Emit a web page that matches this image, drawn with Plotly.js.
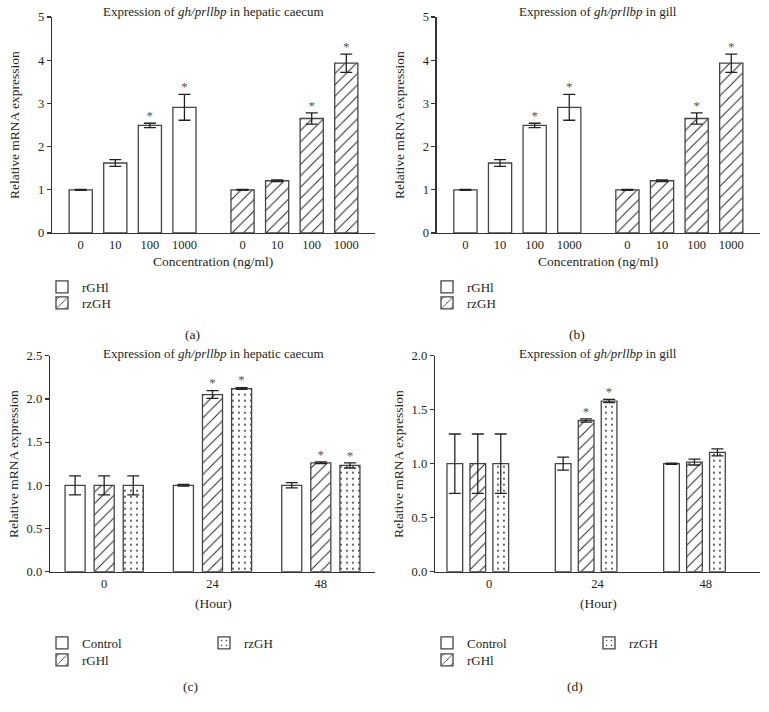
<!DOCTYPE html>
<html>
<head>
<meta charset="utf-8">
<script src="https://cdn.plot.ly/plotly-3.0.1.min.js"></script>
<style>
  body { margin: 0; background: #fff; }
  #chart { width: 769px; height: 712px; }
</style>
</head>
<body>
<div id="chart"></div>
<script>
// dose experiment, panels (a) and (b) show the same numbers
var concLabels = ['0', '10', '100', '1000'];
var rGHlConc = [1.0, 1.62, 2.49, 2.91];
var rGHlConcErr = [0.01, 0.08, 0.05, 0.30];
var rGHlConcSig = [0, 0, 1, 1];
var rzGHConc = [1.0, 1.21, 2.65, 3.93];
var rzGHConcErr = [0.01, 0.02, 0.13, 0.21];
var rzGHConcSig = [0, 0, 1, 1];

// time course, hours
var hourLabels = ['0', '24', '48'];

// hepatic caecum (c)
var hcControl = [1.0, 1.0, 1.0];
var hcControlErr = [0.11, 0.01, 0.03];
var hcControlSig = [0, 0, 0];
var hcRGHl = [1.0, 2.05, 1.26];
var hcRGHlErr = [0.11, 0.045, 0.01];
var hcRGHlSig = [0, 1, 1];
var hcRzGH = [1.0, 2.12, 1.23];
var hcRzGHErr = [0.11, 0.01, 0.03];
var hcRzGHSig = [0, 1, 1];

// gill (d)
var gillControl = [1.0, 1.0, 1.0];
var gillControlErr = [0.275, 0.06, 0.005];
var gillControlSig = [0, 0, 0];
var gillRGHl = [1.0, 1.40, 1.015];
var gillRGHlErr = [0.275, 0.015, 0.027];
var gillRGHlSig = [0, 1, 0];
var gillRzGH = [1.0, 1.58, 1.105];
var gillRzGHErr = [0.275, 0.015, 0.033];
var gillRzGHSig = [0, 1, 0];

var W = 769, H = 712;
function px(x) { return x / W; }
function py(y) { return 1 - y / H; }

var FONT = '"Liberation Serif", "Times New Roman", serif';
var INK = '#231f20';

var plain = { shape: '' };
var hatch = { shape: '/', size: 8, solidity: 0.12, fgcolor: '#222', bgcolor: '#fff' };
var dots = { shape: '.', size: 6, solidity: 0.08, fgcolor: '#333', bgcolor: '#fff' };

var traces = [];

function addBars(name, xs, vals, errs, sig, width, pattern, ax, legendId) {
    traces.push({
        type: 'bar',
        name: name,
        x: xs,
        y: vals,
        width: width,
        xaxis: 'x' + ax,
        yaxis: 'y' + ax,
        legend: legendId,
        showlegend: true,
        marker: { color: '#fff', line: { color: '#444', width: 1.3 }, pattern: pattern },
        error_y: { type: 'data', array: errs, visible: true, color: '#222', thickness: 1.3, width: 6 },
        hoverinfo: 'skip'
    });
    // asterisks over significant bars
    var sx = [], sy = [];
    for (var i = 0; i < vals.length; i++) {
        if (sig[i]) {
            sx.push(xs[i]);
            sy.push(vals[i] + errs[i]);
        }
    }
    if (sx.length) {
        traces.push({
            type: 'scatter', mode: 'text', x: sx, y: sy,
            text: sx.map(function () { return '*'; }),
            textposition: 'top center',
            textfont: { family: FONT, size: 13, color: '#555' },
            xaxis: 'x' + ax, yaxis: 'y' + ax,
            showlegend: false, hoverinfo: 'skip', cliponaxis: false
        });
    }
}

// panels a, b: numeric positions, second group shifted right
var groupShift = 4.68;
var pos1 = concLabels.map(function (d, i) { return i; });
var pos2 = concLabels.map(function (d, i) { return i + groupShift; });

addBars('rGHl', pos1, rGHlConc, rGHlConcErr, rGHlConcSig, 0.67, plain, '', 'legend');
addBars('rzGH', pos2, rzGHConc, rzGHConcErr, rzGHConcSig, 0.67, hatch, '', 'legend2');
addBars('rGHl', pos1, rGHlConc, rGHlConcErr, rGHlConcSig, 0.67, plain, '2', 'legend3');
addBars('rzGH', pos2, rzGHConc, rzGHConcErr, rzGHConcSig, 0.67, hatch, '2', 'legend4');

// panels c, d: three bars per time point
function hourPos(slot, shift, k) {
    return hourLabels.map(function (d, i) { return i + (k - 1) * slot + shift; });
}

addBars('Control', hourPos(0.2685, 0, 0), hcControl, hcControlErr, hcControlSig, 0.185, plain, '3', 'legend5');
addBars('rGHl', hourPos(0.2685, 0, 1), hcRGHl, hcRGHlErr, hcRGHlSig, 0.185, hatch, '3', 'legend6');
addBars('rzGH', hourPos(0.2685, 0, 2), hcRzGH, hcRzGHErr, hcRzGHSig, 0.185, dots, '3', 'legend7');

addBars('Control', hourPos(0.212, -0.105, 0), gillControl, gillControlErr, gillControlSig, 0.145, plain, '4', 'legend8');
addBars('rGHl', hourPos(0.212, -0.105, 1), gillRGHl, gillRGHlErr, gillRGHlSig, 0.145, hatch, '4', 'legend9');
addBars('rzGH', hourPos(0.212, -0.105, 2), gillRzGH, gillRzGHErr, gillRzGHSig, 0.145, dots, '4', 'legend10');

function xAxis(anchor, domain, range, vals, text) {
    return {
        anchor: anchor, domain: domain, range: range, tickvals: vals, ticktext: text,
        showline: true, linecolor: '#333', linewidth: 1.3, ticks: '',
        showgrid: false, zeroline: false, fixedrange: true,
        tickfont: { family: FONT, size: 12.5, color: INK }
    };
}
function yAxis(anchor, domain, range, dtick, fmt) {
    return {
        anchor: anchor, domain: domain, range: range, dtick: dtick, tickformat: fmt,
        showline: true, linecolor: '#333', linewidth: 1.3,
        ticks: 'outside', ticklen: 4, tickcolor: '#333', tickwidth: 1.2,
        showgrid: false, zeroline: false, fixedrange: true,
        tickfont: { family: FONT, size: 12.5, color: INK }
    };
}

var topY = [py(233), py(17)];
var botY = [py(571.7), py(355.7)];
var concTicks = pos1.concat(pos2);
var concText = concLabels.concat(concLabels);
var hourTicks = hourLabels.map(function (d, i) { return i; });

// one legend per entry so rows can sit as close as in the reference
function legendAt(x, yCenter) {
    return {
        x: px(x), y: py(yCenter - 14), xanchor: 'left', yanchor: 'top',
        bgcolor: 'rgba(0,0,0,0)', borderwidth: 0, tracegroupgap: 0,
        font: { family: FONT, size: 13, color: INK }
    };
}

var notes = [];
function note(text, x, y, size, angle) {
    notes.push({
        text: text, x: px(x), y: py(y), xref: 'paper', yref: 'paper',
        xanchor: 'center', yanchor: 'middle', showarrow: false, textangle: angle || 0,
        font: { family: FONT, size: size, color: INK }
    });
}

var hcTitle = 'Expression of <i>gh/prllbp</i> in hepatic caecum';
var gillTitle = 'Expression of <i>gh/prllbp</i> in gill';
note(hcTitle, 213, 11, 13);
note(gillTitle, 598, 11, 13);
note(hcTitle, 213, 353.5, 13);
note(gillTitle, 598, 353.5, 13);
note('Relative mRNA expression', 14, 125, 13.5, -90);
note('Relative mRNA expression', 399, 125, 13.5, -90);
note('Relative mRNA expression', 13, 464, 13.5, -90);
note('Relative mRNA expression', 398, 464, 13.5, -90);
note('Concentration (ng/ml)', 213, 262, 13.5);
note('Concentration (ng/ml)', 598, 262, 13.5);
note('(Hour)', 213, 603, 13.5);
note('(Hour)', 598, 603, 13.5);
note('(a)', 192, 334.5, 13.5);
note('(b)', 577, 334.5, 13.5);
note('(c)', 190, 686, 13.5);
note('(d)', 575, 686, 13.5);

var layout = {
    width: W, height: H,
    margin: { l: 0, r: 0, t: 0, b: 0 },
    paper_bgcolor: '#fff', plot_bgcolor: '#fff',
    barmode: 'overlay',
    font: { family: FONT, color: INK },
    xaxis: xAxis('y', [px(52), px(375)], [-0.83, 8.51], concTicks, concText),
    yaxis: yAxis('x', topY, [0, 5], 1),
    xaxis2: xAxis('y2', [px(436.7), px(760)], [-0.83, 8.51], concTicks, concText),
    yaxis2: yAxis('x2', topY, [0, 5], 1),
    xaxis3: xAxis('y3', [px(50), px(375)], [-0.5, 2.5], hourTicks, hourLabels),
    yaxis3: yAxis('x3', botY, [0, 2.5], 0.5, '.1f'),
    xaxis4: xAxis('y4', [px(435), px(760)], [-0.5, 2.5], hourTicks, hourLabels),
    yaxis4: yAxis('x4', botY, [0, 2.0], 0.5, '.1f'),
    legend: legendAt(42, 286),
    legend2: legendAt(42, 302),
    legend3: legendAt(427, 286),
    legend4: legendAt(427, 302),
    legend5: legendAt(42, 642),
    legend6: legendAt(42, 659),
    legend7: legendAt(204, 642),
    legend8: legendAt(427, 642),
    legend9: legendAt(427, 659),
    legend10: legendAt(589, 642),
    annotations: notes,
    showlegend: true
};

Plotly.newPlot('chart', traces, layout, { displayModeBar: false, staticPlot: true });
</script>
</body>
</html>
